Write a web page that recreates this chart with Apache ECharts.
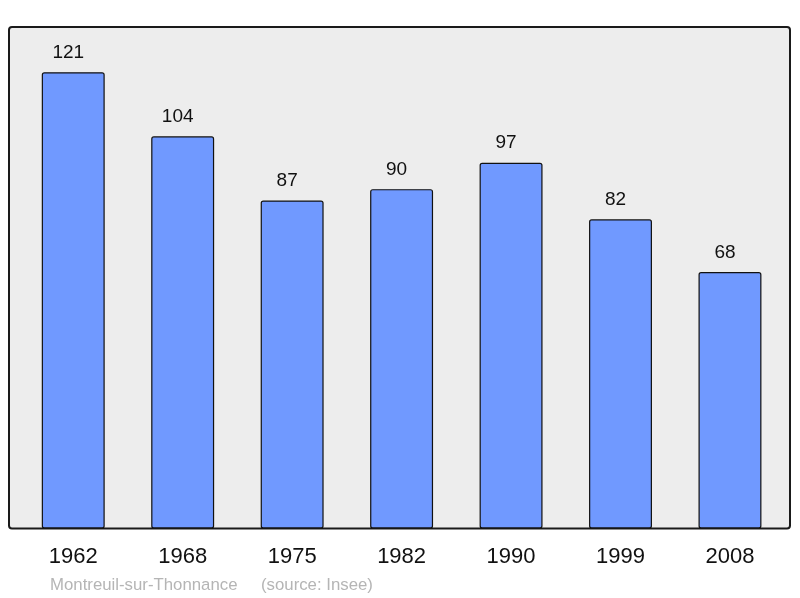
<!DOCTYPE html>
<html style="height: 100%">
<head>
  <meta charset="utf-8">
</head>
<body style="height: 100%; margin: 0; background: #fff">
  <div id="container" style="width: 800px; height: 598px"></div>
  <script src="https://cdn.jsdelivr.net/npm/echarts@6/dist/echarts.min.js"></script>
  <script>
var years = ['1962', '1968', '1975', '1982', '1990', '1999', '2008'];
var population = [121, 104, 87, 90, 97, 82, 68];

var chart = echarts.init(document.getElementById('container'), null, { renderer: 'canvas' });

var footStyle = { fontSize: 16.8, fontWeight: 'normal', color: '#b5b5b5', fontFamily: 'Liberation Sans, Arial, sans-serif' };

var option = {
  animation: false,
  textStyle: { fontFamily: 'Liberation Sans, Arial, sans-serif' },
  title: [
    { text: 'Montreuil-sur-Thonnance', left: 45, top: 572, textStyle: footStyle },
    { text: '(source: Insee)', left: 256, top: 572, textStyle: footStyle }
  ],
  graphic: [
    {
      type: 'rect',
      z: -10,
      shape: { x: 9, y: 27, width: 781, height: 501.5, r: 3 },
      style: { fill: '#ededed', stroke: '#1a1a1a', lineWidth: 2 }
    }
  ],
  grid: { left: 18.5, right: 15.3, top: 27, bottom: 69.5 },
  xAxis: {
    type: 'category',
    data: years,
    axisLine: { show: false },
    axisTick: { show: false },
    axisLabel: { fontSize: 22, color: '#111', margin: 17 }
  },
  yAxis: {
    type: 'value',
    min: 0,
    max: 133,
    show: false,
    splitLine: { show: false }
  },
  series: [
    {
      type: 'bar',
      data: population,
      barWidth: '57.5%',
      itemStyle: { color: '#7099ff', borderColor: '#111', borderWidth: 1.2, borderRadius: 2 },
      label: { show: true, position: 'top', distance: 10, offset: [-5, 0], fontSize: 19, color: '#111' }
    }
  ]
};

chart.setOption(option);
window.addEventListener('resize', chart.resize);
  </script>
</body>
</html>
